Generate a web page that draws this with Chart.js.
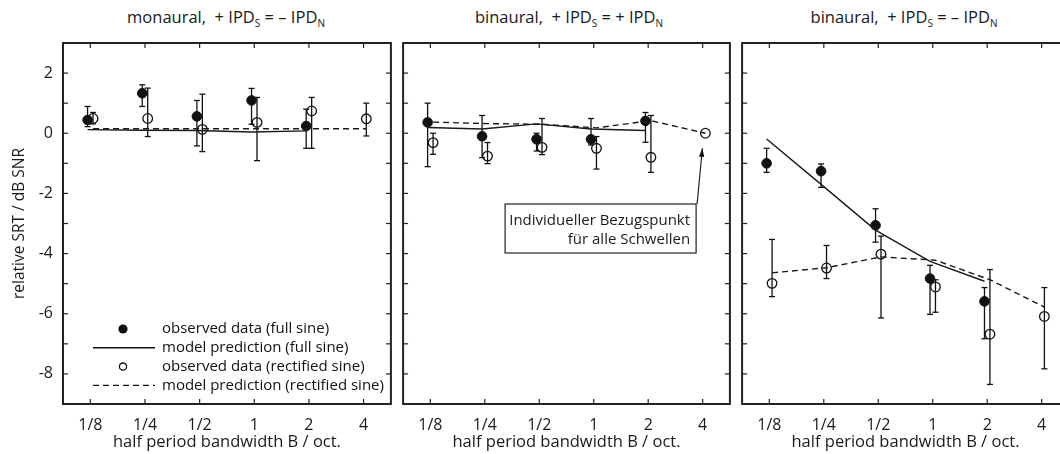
<!DOCTYPE html>
<html>
<head>
<meta charset="utf-8">
<script src="https://cdn.jsdelivr.net/npm/chart.js@4.4.1/dist/chart.umd.min.js"></script>
<style>
body { margin: 0; background: #fff; overflow: hidden; font-family: "Open Sans", sans-serif; color: #1a1a1a; }
#wrap { position: relative; width: 1060px; height: 454px; overflow: hidden; }
canvas { position: absolute; top: 0; }
.ttl { position: absolute; top: 5px; font-size: 16.5px; white-space: nowrap; transform: translateX(-50%); }
.ttl span { font-size: 10px; position: relative; top: 4px; }
</style>
</head>
<body>
<div id="wrap">
  <div class="ttl" style="left:226px">monaural,&nbsp; + IPD<span>S</span> = – IPD<span>N</span></div>
  <div class="ttl" style="left:569px">binaural,&nbsp; + IPD<span>S</span> = + IPD<span>N</span></div>
  <div class="ttl" style="left:904px">binaural,&nbsp; + IPD<span>S</span> = – IPD<span>N</span></div>
  <canvas id="c1" width="397" height="454" style="left:0px"></canvas>
  <canvas id="c2" width="339" height="454" style="left:397px"></canvas>
  <canvas id="c3" width="339" height="454" style="left:736px"></canvas>
</div>
<script>
// x = half period bandwidth in octaves, plotted on log2 scale
var xTickLabels = ['1/8', '1/4', '1/2', '1', '2', '4'];
var octaves = [-3, -2, -1, 0, 1, 2];
var yTickLabels = [-8, -6, -4, -2, 0, 2];

var legendLabels = ['observed data (full sine)', 'model prediction (full sine)',
    'observed data (rectified sine)', 'model prediction (rectified sine)'];

// panel 1: monaural
var p1FullObs = [0.44, 1.33, 0.56, 1.09, 0.24];
var p1FullLo = [0.22, 0.89, -0.42, 0.30, -0.50];
var p1FullHi = [0.89, 1.61, 1.09, 1.49, 0.80];
var p1RectObs = [0.49, 0.49, 0.13, 0.36, 0.74, 0.48];
var p1RectLo = [0.31, -0.11, -0.61, -0.91, -0.50, -0.09];
var p1RectHi = [0.69, 1.50, 1.30, 1.19, 1.19, 1.00];
var p1FullModel = [0.12, 0.10, 0.09, 0.04, 0.08];
var p1RectModel = [0.15, 0.15, 0.15, 0.15, 0.15, 0.15];

// panel 2: binaural, IPD_S = IPD_N
var p2FullObs = [0.36, -0.10, -0.20, -0.20, 0.41];
var p2FullLo = [-1.11, -0.81, -0.59, -0.39, -0.30];
var p2FullHi = [1.00, 0.59, 0.00, 0.49, 0.69];
var p2RectObs = [-0.31, -0.76, -0.47, -0.50, -0.80, 0];
var p2RectLo = [-0.70, -1.01, -0.71, -1.19, -1.30, null];
var p2RectHi = [0.00, -0.31, 0.49, -0.11, 0.59, null];
var p2FullModel = [0.19, 0.14, 0.31, 0.14, 0.09];
var p2RectModel = [0.37, 0.32, 0.30, 0.18, 0.42, 0];

// panel 3: binaural, IPD_S = -IPD_N
var p3FullObs = [-1.00, -1.26, -3.06, -4.83, -5.59];
var p3FullLo = [-1.30, -1.80, -3.62, -6.02, -6.83];
var p3FullHi = [-0.50, -1.02, -2.51, -4.39, -5.13];
var p3RectObs = [-4.99, -4.48, -4.02, -5.11, -6.68, -6.09];
var p3RectLo = [-5.43, -4.83, -6.14, -5.95, -8.35, -7.83];
var p3RectHi = [-3.53, -3.73, -3.42, -4.87, -4.53, -5.13];
var p3FullModel = [-0.19, -1.70, -3.22, -4.26, -4.92];
var p3RectModel = [-4.64, -4.47, -4.11, -4.22, -4.87, -5.78];

var ink = '#1a1a1a';
var shift = 0.05; // small sideways offset of the two marker types

Chart.defaults.font.family = "'Open Sans', sans-serif";
Chart.defaults.font.size = 16;
Chart.defaults.color = ink;

function pts(vals, dx){
    return vals.map(function(v, i){ return {x: octaves[i] + dx, y: v}; });
}

function makeSets(fullObs, fullLo, fullHi, rectObs, rectLo, rectHi, fullModel, rectModel){
    return [
        {data: pts(fullModel, -shift), showLine: true, borderColor: ink, borderWidth: 1.4, pointRadius: 0},
        {data: pts(rectModel, shift), showLine: true, borderColor: ink, borderWidth: 1.4, borderDash: [6, 4], pointRadius: 0},
        {data: pts(fullObs, -shift), pointRadius: 4.8, backgroundColor: '#111', borderColor: '#111', borderWidth: 1,
            errLo: fullLo, errHi: fullHi},
        {data: pts(rectObs, shift), pointRadius: 4.8, backgroundColor: 'rgba(0,0,0,0)', borderColor: '#111', borderWidth: 1.3,
            errLo: rectLo, errHi: rectHi}
    ];
}

function line(ctx, x0, y0, x1, y1){
    ctx.beginPath(); ctx.moveTo(x0, y0); ctx.lineTo(x1, y1); ctx.stroke();
}

// box round the plot with inward ticks on all sides
var boxTicks = {
    id: 'boxTicks',
    afterDraw: function(chart){
        var ctx = chart.ctx, a = chart.chartArea, x = chart.scales.x, y = chart.scales.y;
        ctx.save();
        ctx.strokeStyle = '#222';
        ctx.lineWidth = 1.2;
        octaves.forEach(function(v){
            var px = x.getPixelForValue(v);
            line(ctx, px, a.bottom, px, a.bottom - 5);
            line(ctx, px, a.top, px, a.top + 5);
        });
        for (var v = -9; v <= 3; v++){
            var py = y.getPixelForValue(v);
            line(ctx, a.left, py, a.left + 5, py);
            line(ctx, a.right, py, a.right - 5, py);
        }
        ctx.lineWidth = 2;
        ctx.strokeRect(a.left, a.top, a.right - a.left, a.bottom - a.top);
        ctx.restore();
    }
};

var errorBars = {
    id: 'errorBars',
    beforeDatasetsDraw: function(chart){
        var ctx = chart.ctx, y = chart.scales.y;
        ctx.save();
        ctx.strokeStyle = '#111';
        ctx.lineWidth = 1.3;
        chart.data.datasets.forEach(function(ds, i){
            if (!ds.errLo) return;
            chart.getDatasetMeta(i).data.forEach(function(pt, j){
                if (ds.errLo[j] == null) return;
                var lo = y.getPixelForValue(ds.errLo[j]), hi = y.getPixelForValue(ds.errHi[j]);
                line(ctx, pt.x, lo, pt.x, hi);
                line(ctx, pt.x - 3, lo, pt.x + 3, lo);
                line(ctx, pt.x - 3, hi, pt.x + 3, hi);
            });
        });
        ctx.restore();
    }
};

var legendBox = {
    id: 'legendBox',
    afterDraw: function(chart){
        var ctx = chart.ctx, a = chart.chartArea;
        var xm = a.left + 60, tx = a.left + 99;
        ctx.save();
        ctx.strokeStyle = '#111';
        ctx.fillStyle = '#111';
        ctx.font = "15px 'Open Sans', sans-serif";
        ctx.textBaseline = 'middle';
        legendLabels.forEach(function(t, i){
            var yy = a.bottom - 75 + i * 18.8;
            ctx.lineWidth = 1.4;
            if (i == 0){ ctx.beginPath(); ctx.arc(xm, yy, 4.6, 0, Math.PI * 2); ctx.fill(); }
            if (i == 1){ line(ctx, a.left + 30, yy, a.left + 92, yy); }
            if (i == 2){ ctx.lineWidth = 1.3; ctx.beginPath(); ctx.arc(xm, yy, 3.6, 0, Math.PI * 2); ctx.stroke(); }
            if (i == 3){ ctx.setLineDash([6, 4]); line(ctx, a.left + 30, yy, a.left + 92, yy); ctx.setLineDash([]); }
            ctx.fillText(t, tx, yy);
        });
        ctx.restore();
    }
};

// label box with arrow pointing at the common reference point
var refNote = {
    id: 'refNote',
    afterDraw: function(chart){
        var ctx = chart.ctx, a = chart.chartArea, x = chart.scales.x, y = chart.scales.y;
        var bx0 = a.left + 102, bx1 = a.left + 293, by0 = a.top + 161, by1 = a.top + 210;
        ctx.save();
        ctx.fillStyle = '#fff';
        ctx.fillRect(bx0, by0, bx1 - bx0, by1 - by0);
        ctx.strokeStyle = '#222';
        ctx.lineWidth = 1.2;
        ctx.strokeRect(bx0, by0, bx1 - bx0, by1 - by0);
        ctx.fillStyle = ink;
        ctx.font = "15px 'Open Sans', sans-serif";
        ctx.textAlign = 'right';
        ctx.textBaseline = 'middle';
        ctx.fillText('Individueller Bezugspunkt', bx1 - 6, by0 + 17);
        ctx.fillText('für alle Schwellen', bx1 - 6, by0 + 36);
        var tx = x.getPixelForValue(octaves[5] + shift) - 3, ty = y.getPixelForValue(0) + 15;
        var sx = bx1 + 1, sy = by0;
        line(ctx, sx, sy, tx, ty);
        var ang = Math.atan2(ty - sy, tx - sx);
        ctx.fillStyle = '#111';
        ctx.beginPath();
        ctx.moveTo(tx, ty);
        ctx.lineTo(tx - 9 * Math.cos(ang - 0.3), ty - 9 * Math.sin(ang - 0.3));
        ctx.lineTo(tx - 9 * Math.cos(ang + 0.3), ty - 9 * Math.sin(ang + 0.3));
        ctx.closePath();
        ctx.fill();
        ctx.restore();
    }
};

function makePanel(id, sets, first, padLeft, extra){
    return new Chart(document.getElementById(id), {
        type: 'scatter',
        data: {datasets: sets},
        options: {
            responsive: false,
            animation: false,
            layout: {padding: {top: 43, left: padLeft, right: 3, bottom: 0}},
            plugins: {legend: {display: false}, tooltip: {enabled: false}},
            scales: {
                x: {
                    type: 'linear', min: -3.5, max: 2.5,
                    grid: {display: false, drawTicks: false}, border: {display: false},
                    afterBuildTicks: function(s){ s.ticks = octaves.map(function(v){ return {value: v}; }); },
                    afterFit: function(s){ s.height = 50; },
                    ticks: {padding: 12, autoSkip: false, maxRotation: 0,
                        callback: function(v){ return xTickLabels[octaves.indexOf(v)]; }},
                    title: {display: true, text: 'half period bandwidth B / oct.', font: {size: 16.5},
                        padding: {top: 0, bottom: 2}}
                },
                y: {
                    min: -9, max: 3,
                    display: first,
                    grid: {display: false, drawTicks: false}, border: {display: false},
                    afterBuildTicks: function(s){ s.ticks = yTickLabels.map(function(v){ return {value: v}; }); },
                    afterFit: function(s){ s.width = first ? 63 : 0; },
                    ticks: {padding: 10},
                    title: {display: first, text: 'relative SRT / dB SNR', font: {size: 15.5},
                        padding: {top: 10, bottom: 0}}
                }
            }
        },
        plugins: [errorBars, boxTicks].concat(extra)
    });
}

makePanel('c1', makeSets(p1FullObs, p1FullLo, p1FullHi, p1RectObs, p1RectLo, p1RectHi, p1FullModel, p1RectModel), true, 0, [legendBox]);
makePanel('c2', makeSets(p2FullObs, p2FullLo, p2FullHi, p2RectObs, p2RectLo, p2RectHi, p2FullModel, p2RectModel), false, 4, [refNote]);
makePanel('c3', makeSets(p3FullObs, p3FullLo, p3FullHi, p3RectObs, p3RectLo, p3RectHi, p3FullModel, p3RectModel), false, 4, []);
</script>
</body>
</html>
